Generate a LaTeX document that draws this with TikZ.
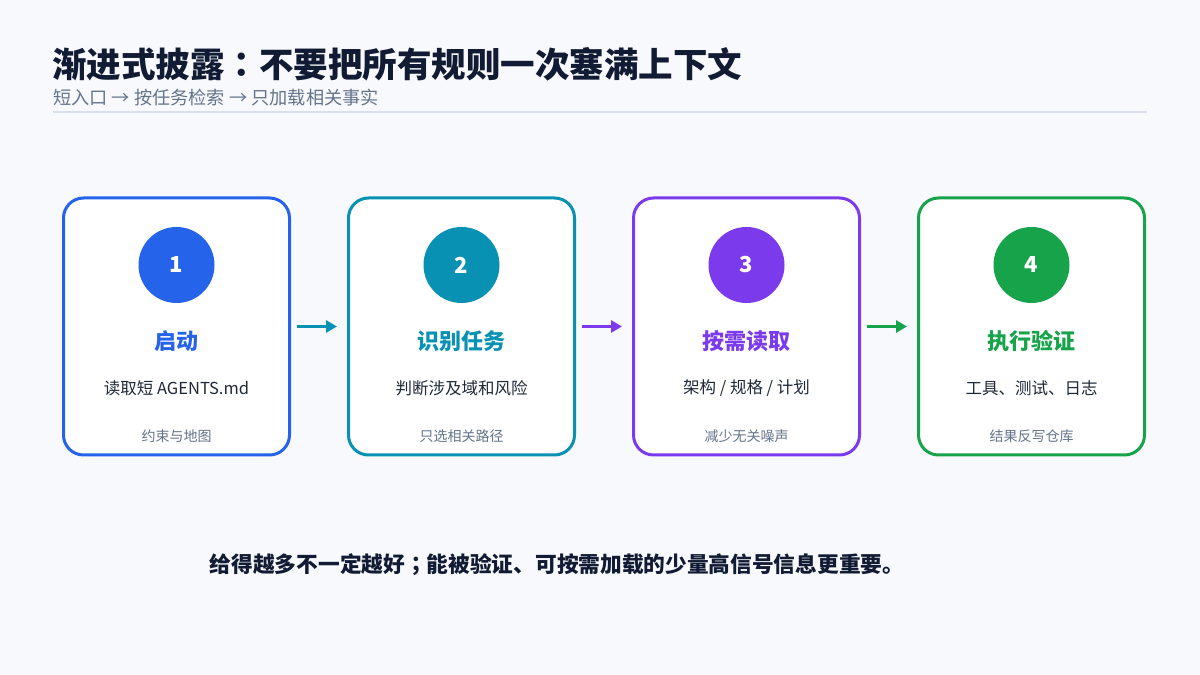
\documentclass[tikz,border=0pt]{standalone}
\usepackage{fontspec}
\setmainfont{Noto Sans CJK SC}
\newfontfamily\jpfont{Noto Sans CJK JP}
\usepackage{tikz}
\usetikzlibrary{arrows.meta, positioning, calc}
\definecolor{pagebg}{HTML}{F7F9FC}
\definecolor{inkdark}{HTML}{111B33}
\definecolor{inkmid}{HTML}{1F2937}
\definecolor{inkgray}{HTML}{64748B}
\definecolor{rulegray}{HTML}{D9E0EB}
\definecolor{stepblue}{HTML}{2563EB}
\definecolor{stepteal}{HTML}{0891B2}
\definecolor{steppurple}{HTML}{7C3AED}
\definecolor{stepgreen}{HTML}{16A34A}

\begin{document}
\begin{tikzpicture}[
  x=1pt, y=1pt,
  stepbox/.style={draw=#1, line width=3pt, rounded corners=20pt, fill=white,
                  minimum width=226pt, minimum height=257pt, inner sep=0pt},
  badge/.style={circle, fill=#1, minimum size=76pt, inner sep=0pt,
                text=white, font=\fontsize{22}{24}\selectfont\bfseries},
  steptitle/.style={text=#1, inner sep=0pt, font=\fontsize{22}{25}\selectfont\bfseries},
  stepdesc/.style={text=inkmid, inner sep=0pt, font=\fontsize{16.5}{19}\selectfont},
  stepnote/.style={text=inkgray, inner sep=0pt, font=\fontsize{14}{17}\selectfont},
  flow/.style={draw=#1, line width=3.5pt, -{Triangle[length=11pt, width=12pt]},
               shorten <=6pt, shorten >=10pt},
]
\useasboundingbox[fill=pagebg] (0,0) rectangle (1200,675);

% Heading
\node[anchor=west, inner sep=0pt, text=inkdark,
      font=\fontsize{34.5}{38}\selectfont\bfseries] (title) at (52,611)
      {渐进式披露{\jpfont ：}不要把所有规则一次塞满上下文};
\node[anchor=west, inner sep=0pt, text=inkgray,
      font=\fontsize{18.2}{22}\selectfont] (subtitle) at (53,577)
      {短入口 → 按任务检索 → 只加载相关事实};
\coordinate (rule_l) at (53,563);
\coordinate (rule_r) at (1147,563);
\draw[rulegray, line width=2pt] (rule_l) -- (rule_r);

% Step boxes
\node[stepbox=stepblue] (s1) at (176.5,348.5) {};
\node[stepbox=stepteal, right=56pt of s1] (s2) {};
\node[stepbox=steppurple, right=56pt of s2] (s3) {};
\node[stepbox=stepgreen, right=56pt of s3] (s4) {};

% Step 1
\node[badge=stepblue] (n1) at ($(s1.center)+(0,61.5)$) {1};
\node[steptitle=stepblue] (t1) at ($(s1.center)+(0,-14.5)$) {启动};
\node[stepdesc] (d1) at ($(s1.center)+(0,-61.5)$) {读取短 AGENTS.md};
\node[stepnote] (m1) at ($(s1.center)+(0,-109.5)$) {约束与地图};

% Step 2
\node[badge=stepteal] (n2) at ($(s2.center)+(0,61.5)$) {2};
\node[steptitle=stepteal] (t2) at ($(s2.center)+(0,-14.5)$) {识别任务};
\node[stepdesc] (d2) at ($(s2.center)+(0,-61.5)$) {判断涉及域和风险};
\node[stepnote] (m2) at ($(s2.center)+(0,-109.5)$) {只选相关路径};

% Step 3
\node[badge=steppurple] (n3) at ($(s3.center)+(0,61.5)$) {3};
\node[steptitle=steppurple] (t3) at ($(s3.center)+(0,-14.5)$) {按需读取};
\node[stepdesc] (d3) at ($(s3.center)+(0,-61.5)$) {架构 / 规格 / 计划};
\node[stepnote] (m3) at ($(s3.center)+(0,-109.5)$) {减少无关噪声};

% Step 4
\node[badge=stepgreen] (n4) at ($(s4.center)+(0,61.5)$) {4};
\node[steptitle=stepgreen] (t4) at ($(s4.center)+(0,-14.5)$) {执行验证};
\node[stepdesc] (d4) at ($(s4.center)+(0,-61.5)$) {工具、测试、日志};
\node[stepnote] (m4) at ($(s4.center)+(0,-109.5)$) {结果反写仓库};

% Flow arrows
\draw[flow=stepteal]   (s1) -- (s2);
\draw[flow=steppurple] (s2) -- (s3);
\draw[flow=stepgreen]  (s3) -- (s4);

% Takeaway
\node[inner sep=0pt, text=inkdark, font=\fontsize{21.7}{25}\selectfont\bfseries]
      (takeaway) at (557,110)
      {给得越多不一定越好{\jpfont ；}能被验证、可按需加载的少量高信号信息更重要。};
\end{tikzpicture}
\end{document}
